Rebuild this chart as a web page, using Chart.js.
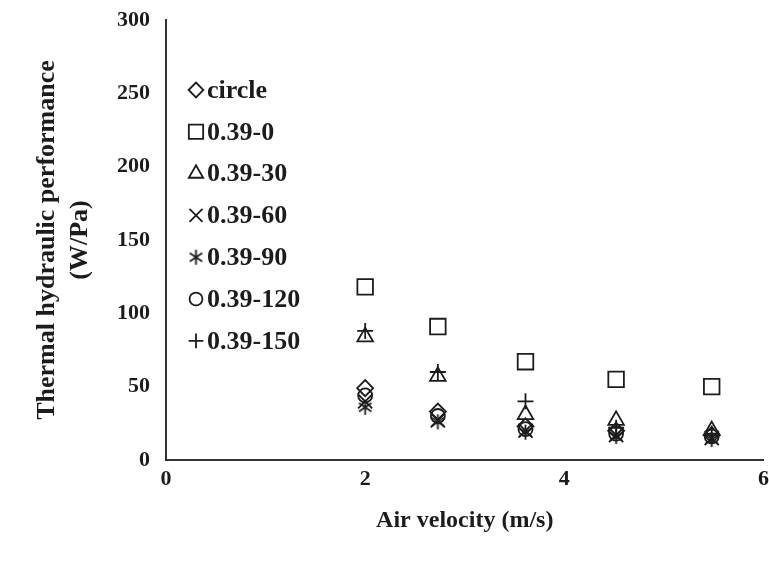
<!DOCTYPE html>
<html><head><meta charset="utf-8">
<script src="https://cdn.jsdelivr.net/npm/chart.js@4/dist/chart.umd.min.js"></script>
<style>html,body{margin:0;padding:0;background:#fff}#wrap{width:769px;height:567px;position:relative}</style>
</head><body><div id="wrap"><canvas id="c" width="769" height="567"></canvas></div>
<script>
// ---- data ----
const velocities = [2.0, 2.73, 3.61, 4.52, 5.48];
const seriesNames = ['circle', '0.39-0', '0.39-30', '0.39-60', '0.39-90', '0.39-120', '0.39-150'];
const circleVals = [49, 33, 23, 20, 17];
const s0Vals   = [118, 91, 67, 55, 50];
const s30Vals  = [84, 57, 31, 27, 20];
const s60Vals  = [40, 27, 20, 17, 15];
const s90Vals  = [36, 26, 19, 16, 14];
const s120Vals = [44, 30, 21, 18, 16];
const s150Vals = [88, 60, 40, 22, 18];
const xTicks = [0, 2, 4, 6];
const yTicks = [0, 50, 100, 150, 200, 250, 300];
const xTitle = 'Air velocity (m/s)';
const yTitle = ['Thermal hydraulic performance', '(W/Pa)'];

const INK = '#1c1c1c';
const FONT = '"Liberation Serif", "Times New Roman", serif';

// six-armed asterisk marker (vertical bar + X)
function makeAsterisk(size, lw) {
  const c = document.createElement('canvas');
  c.width = size; c.height = size;
  const g = c.getContext('2d');
  const h = size / 2, r = size / 2 - 1;
  g.strokeStyle = INK; g.lineWidth = lw; g.lineCap = 'butt';
  g.beginPath();
  g.moveTo(h, h - r); g.lineTo(h, h + r);
  const a = Math.PI / 3.2;
  g.moveTo(h - r * Math.sin(a), h - r * Math.cos(a)); g.lineTo(h + r * Math.sin(a), h + r * Math.cos(a));
  g.moveTo(h + r * Math.sin(a), h - r * Math.cos(a)); g.lineTo(h - r * Math.sin(a), h + r * Math.cos(a));
  g.stroke();
  return c;
}
const asterisk = makeAsterisk(17, 1.8);

const allVals = [circleVals, s0Vals, s30Vals, s60Vals, s90Vals, s120Vals, s150Vals];
const styles = ['rectRot', 'rect', 'triangle', 'crossRot', asterisk, 'circle', 'cross'];
const radii = [8, 11, 9, 10, 9, 7, 8];

const datasets = seriesNames.map((name, i) => ({
  label: name,
  data: velocities.map((v, j) => ({x: v, y: allVals[i][j]})),
  pointStyle: styles[i],
  pointRadius: radii[i],
  pointHoverRadius: radii[i],
  pointBorderWidth: 1.8,
  borderColor: INK,
  backgroundColor: 'rgba(255,255,255,0)',
  showLine: false
}));

const insideLegend = {
  id: 'insideLegend',
  afterDraw(chart) {
    const ctx = chart.ctx;
    const y0 = 90, step = 41.8, mx = 196, tx = 207;
    chart.data.datasets.forEach((ds, i) => {
      const y = y0 + i * step;
      ctx.save();
      ctx.strokeStyle = INK;
      ctx.fillStyle = 'rgba(255,255,255,0)';
      ctx.lineWidth = 1.8;
      Chart.helpers.drawPoint(ctx, {pointStyle: ds.pointStyle, radius: ds.pointRadius * 0.92, rotation: 0, borderWidth: 1.8}, mx, y);
      ctx.fillStyle = INK;
      ctx.font = 'bold 26px ' + FONT;
      ctx.textAlign = 'left';
      ctx.textBaseline = 'middle';
      ctx.fillText(ds.label, tx, y + 1);
      ctx.restore();
    });
  }
};

new Chart(document.getElementById('c'), {
  type: 'scatter',
  data: {datasets},
  plugins: [insideLegend],
  options: {
    responsive: false,
    devicePixelRatio: 1,
    animation: false,
    layout: {autoPadding: false, padding: {top: 20, right: 0, bottom: 0, left: 0}},
    plugins: {legend: {display: false}, tooltip: {enabled: false}},
    scales: {
      x: {
        type: 'linear', min: 0, max: 6,
        afterBuildTicks: s => { s.ticks = xTicks.map(v => ({value: v})); },
        afterFit: s => { s.height = 107; },
        grid: {display: false, drawTicks: true, tickLength: 6},
        border: {display: true, color: '#333', width: 2},
        ticks: {color: INK, padding: 0, font: {family: FONT, size: 22, weight: 'bold'}},
        title: {display: true, text: xTitle, color: INK, padding: {top: 0, bottom: 32},
                font: {family: FONT, size: 24, weight: 'bold', lineHeight: 1.2}}
      },
      y: {
        type: 'linear', min: 0, max: 300,
        afterBuildTicks: s => { s.ticks = yTicks.map(v => ({value: v})); },
        afterFit: s => { s.width = 166; s.paddingTop = 0; s.paddingBottom = 0; },
        grid: {display: false, drawTicks: false},
        border: {display: true, color: '#333', width: 2},
        ticks: {color: INK, padding: 16, font: {family: FONT, size: 22, weight: 'bold'}},
        title: {display: true, text: yTitle, color: INK, padding: {top: 30, bottom: 0},
                font: {family: FONT, size: 26, weight: 'bold', lineHeight: 1.3}}
      }
    }
  }
});
</script></body></html>
